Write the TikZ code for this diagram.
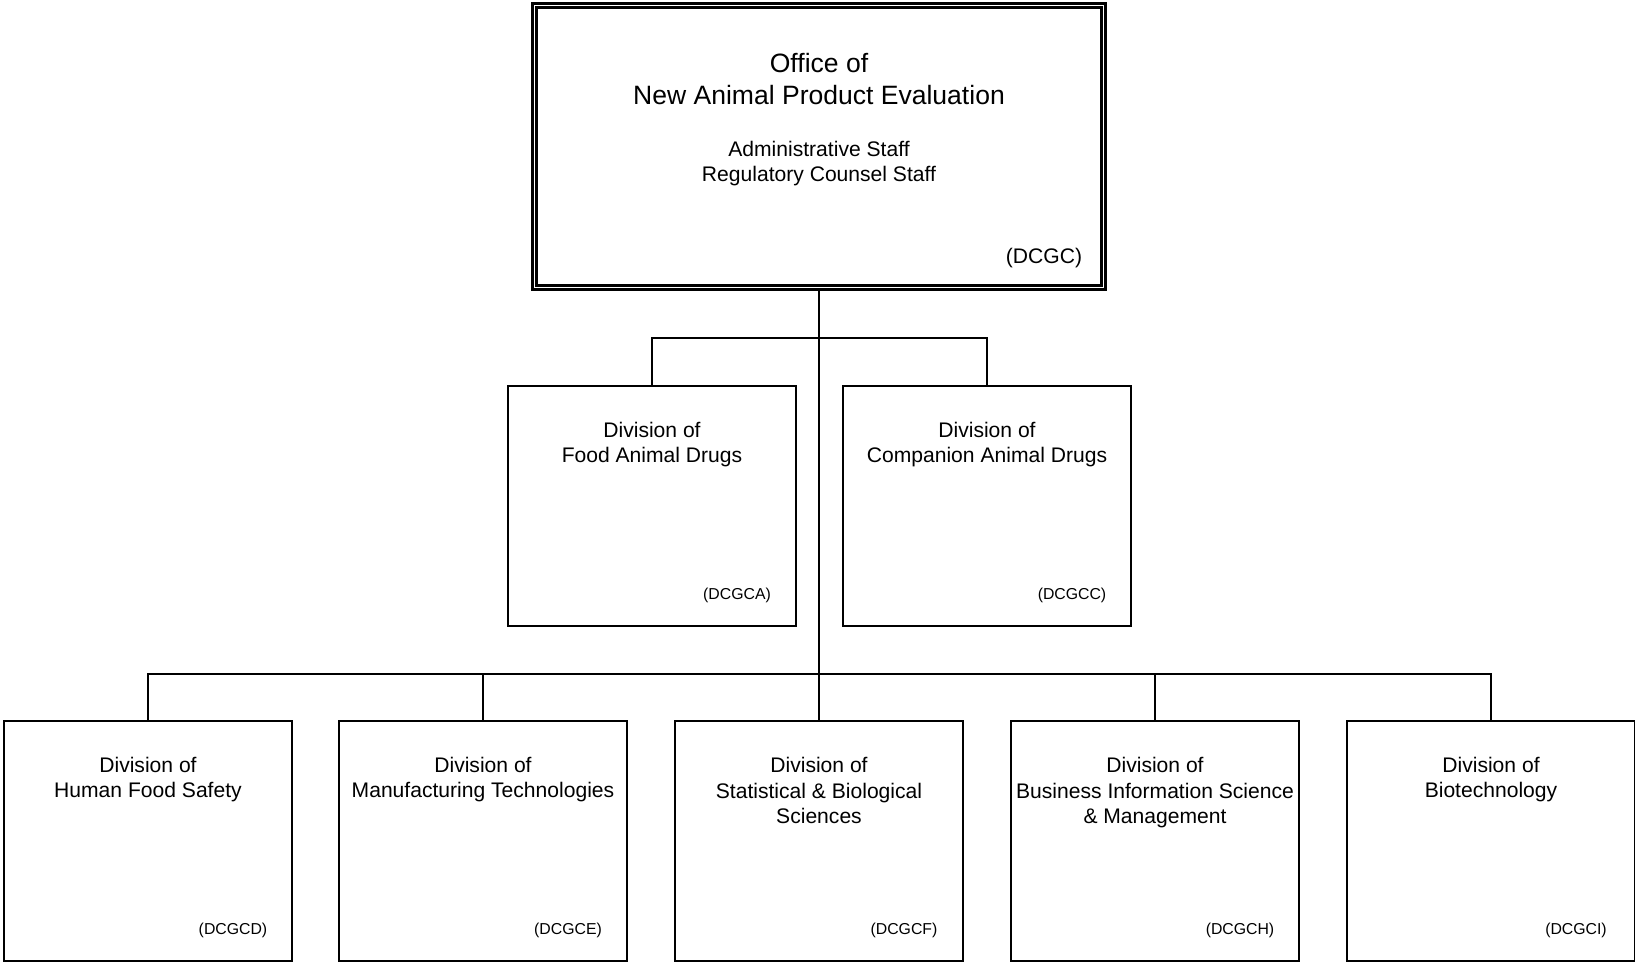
\documentclass[tikz,border=0pt]{standalone}
\usepackage{fontspec}
\setmainfont{Liberation Sans}
\usetikzlibrary{calc}

\tikzset{
	unit/.style={draw, line width=1.35pt, minimum width=5.76cm, minimum height=4.8cm},
	office/.style={draw, line width=1.3pt, double, double distance=1.1pt,
		minimum width=11.38cm, minimum height=5.64cm},
	head/.style={align=center, font=\fontsize{15.1}{18.2}\selectfont},
	title/.style={align=center, font=\fontsize{12}{14.5}\selectfont},
	code/.style={font=\fontsize{9}{11}\selectfont},
	bigcode/.style={font=\fontsize{12}{14.5}\selectfont},
	link/.style={line width=1.35pt}
}

\begin{document}
\begin{tikzpicture}
      \useasboundingbox (0,0) rectangle (32.7,19.28);

      % office
      \node[office] (OFF) at (16.38,16.35) {};
      \node[head] (OFFt) at (16.38,17.69) {Office of\\New Animal Product Evaluation};
      \node[title] (OFFs) at (16.38,16.01) {Administrative Staff\\Regulatory Counsel Staff};
      \node[bigcode] (OFFc) at (20.88,14.12) {(DCGC)};

      % first row
      \node[unit] (FAD) at (13.04,9.16) {};
      \node[title] (FADt) at (13.04,10.39) {Division of\\Food Animal Drugs};
      \node[code] (FADc) at (14.74,7.38) {(DCGCA)};

      \node[unit] (CAD) at (19.74,9.16) {};
      \node[title] (CADt) at (19.74,10.39) {Division of\\Companion Animal Drugs};
      \node[code] (CADc) at (21.44,7.38) {(DCGCC)};

      % second row
      \node[unit] (HFS) at (2.96,2.46) {};
      \node[title] (HFSt) at (2.96,3.69) {Division of\\Human Food Safety};
      \node[code] (HFSc) at (4.66,0.68) {(DCGCD)};

      \node[unit] (MFT) at (9.66,2.46) {};
      \node[title] (MFTt) at (9.66,3.69) {Division of\\Manufacturing Technologies};
      \node[code] (MFTc) at (11.36,0.68) {(DCGCE)};

      \node[unit] (SBS) at (16.38,2.46) {};
      \node[title] (SBSt) at (16.38,3.47) {Division of\\Statistical \& Biological\\Sciences};
      \node[code] (SBSc) at (18.08,0.68) {(DCGCF)};

      \node[unit] (BIS) at (23.10,2.46) {};
      \node[title] (BISt) at (23.10,3.42) {Division of\\Business Information Science\\\& Management};
      \node[code] (BISc) at (24.80,0.68) {(DCGCH)};

      \node[unit] (BIO) at (29.82,2.46) {};
      \node[title] (BIOt) at (29.82,3.69) {Division of\\Biotechnology};
      \node[code] (BIOc) at (31.52,0.68) {(DCGCI)};

      % buses
      \coordinate (B1) at (16.38,12.52);
      \coordinate (B2) at (16.38,5.80);

      \draw [link] (OFF)   to (SBS);
      \draw [link] (FAD)   |- (B1) -| (CAD);
      \draw [link] (HFS)   |- (B2) -| (BIO);
      \draw [link] (MFT)   |- (B2) -| (BIS);
  \end{tikzpicture}
\end{document}
